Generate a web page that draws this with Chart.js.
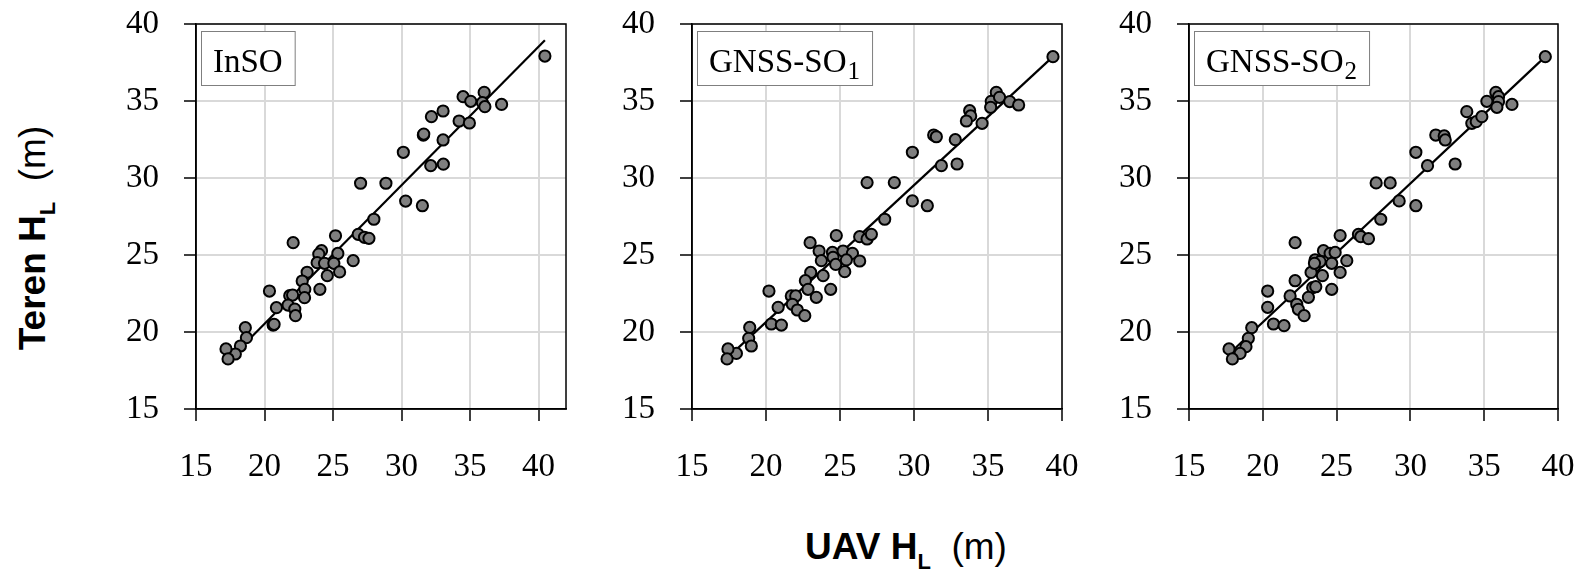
<!DOCTYPE html>
<html>
<head>
<meta charset="utf-8">
<script src="https://cdn.jsdelivr.net/npm/chart.js@4.4.1/dist/chart.umd.min.js"></script>
<style>
  html, body { margin: 0; padding: 0; background: #fff; width: 1581px; height: 570px; overflow: hidden; }
  .panel { position: absolute; top: 0; }
  .title { position: absolute; white-space: nowrap; font-family: 'Liberation Sans', Arial, sans-serif; font-size: 37px; color: #000; line-height: 1; }
  .title b { font-weight: bold; }
  .title .sub { font-size: 22px; position: relative; top: 10px; font-weight: bold; }
</style>
</head>
<body>
<canvas id="p1" class="panel"></canvas>
<canvas id="p2" class="panel"></canvas>
<canvas id="p3" class="panel"></canvas>
<div id="ytitle" class="title" style="left:32px; top:238px; transform: translate(-50%,-50%) rotate(-90deg);"><b>Teren H<span class="sub">L</span></b>&nbsp; (m)</div>
<div id="xtitle" class="title" style="left:906px; top:528px; transform: translateX(-50%);"><b>UAV H<span class="sub">L</span></b>&nbsp; (m)</div>
<script>
// tick labels shared by all three panels
const xTicks = [15, 20, 25, 30, 35, 40];
const yTicks = [15, 20, 25, 30, 35, 40];

// InSO
const insoX = [40.46, 36.03, 34.49, 35.05, 35.9, 36.08, 37.3, 34.2, 34.95, 32.18, 33.03, 31.59, 31.62, 33.03, 30.13, 32.13, 33.05, 27.01, 28.86, 30.3, 31.52, 27.98, 26.84, 27.3, 27.62, 25.18, 26.47, 22.09, 24.16, 23.96, 25.35, 23.84, 24.38, 25.06, 24.58, 25.48, 23.11, 22.75, 22.94, 24.04, 22.92, 21.84, 22.05, 21.72, 22.21, 22.26, 20.36, 20.87, 20.63, 20.7, 18.6, 18.68, 18.24, 17.87, 17.19, 17.34];
const insoY = [37.92, 35.56, 35.28, 34.98, 34.89, 34.63, 34.78, 33.7, 33.57, 33.98, 34.35, 32.79, 32.85, 32.47, 31.67, 30.8, 30.9, 29.66, 29.66, 28.5, 28.2, 27.32, 26.34, 26.15, 26.08, 26.25, 24.63, 25.8, 25.28, 25.06, 25.1, 24.5, 24.46, 24.46, 23.66, 23.9, 23.88, 23.31, 22.77, 22.77, 22.23, 22.36, 22.4, 21.75, 21.49, 21.06, 22.66, 21.58, 20.45, 20.5, 20.28, 19.63, 19.09, 18.57, 18.9, 18.25];
const insoFitX = [17.19, 40.46];
const insoFitY = [18.0, 38.95];

// GNSS-SO1
const so1X = [39.39, 35.56, 35.22, 35.78, 36.47, 37.07, 35.18, 33.76, 33.83, 33.54, 34.6, 31.33, 31.51, 32.79, 29.89, 31.85, 32.91, 26.83, 28.67, 29.89, 30.9, 28.02, 26.33, 26.83, 27.12, 24.75, 22.98, 23.59, 24.49, 25.21, 25.84, 23.74, 24.53, 24.71, 25.43, 26.33, 25.32, 23.86, 23.02, 22.66, 22.84, 24.37, 23.4, 21.71, 22.01, 21.78, 22.12, 22.62, 20.2, 20.82, 20.36, 21.04, 18.9, 18.83, 19.01, 18.0, 17.43, 17.37];
const so1Y = [37.88, 35.56, 34.98, 35.24, 34.96, 34.74, 34.59, 34.37, 34.03, 33.7, 33.55, 32.79, 32.68, 32.49, 31.67, 30.8, 30.91, 29.7, 29.7, 28.51, 28.2, 27.32, 26.19, 26.04, 26.34, 26.26, 25.8, 25.26, 25.17, 25.26, 25.11, 24.63, 24.85, 24.39, 24.68, 24.61, 23.92, 23.66, 23.87, 23.33, 22.77, 22.77, 22.25, 22.34, 22.34, 21.8, 21.43, 21.06, 22.66, 21.6, 20.52, 20.45, 20.3, 19.59, 19.09, 18.61, 18.9, 18.25];
const so1FitX = [17.37, 39.39];
const so1FitY = [18.3, 37.88];

// GNSS-SO2
const so2X = [39.14, 35.79, 35.97, 35.18, 35.97, 35.86, 36.88, 33.82, 34.16, 34.46, 34.84, 31.72, 32.29, 32.36, 30.37, 31.16, 33.03, 27.68, 28.63, 29.24, 30.37, 27.99, 26.48, 26.64, 27.16, 25.24, 22.19, 24.11, 23.54, 23.88, 24.56, 24.9, 24.67, 25.69, 25.24, 24.04, 23.27, 22.19, 23.38, 23.59, 24.67, 21.85, 23.09, 22.3, 22.41, 22.8, 20.33, 20.33, 20.72, 21.44, 19.25, 19.02, 18.86, 18.46, 17.71, 17.94, 23.5];
const so2Y = [37.88, 35.56, 35.28, 34.98, 34.96, 34.59, 34.78, 34.31, 33.55, 33.66, 33.98, 32.79, 32.73, 32.47, 31.67, 30.8, 30.91, 29.68, 29.68, 28.51, 28.2, 27.32, 26.34, 26.19, 26.06, 26.26, 25.8, 25.28, 24.68, 24.57, 25.11, 25.17, 24.46, 24.63, 23.87, 23.66, 23.87, 23.33, 22.88, 22.94, 22.77, 22.34, 22.25, 21.8, 21.47, 21.06, 22.66, 21.6, 20.52, 20.41, 20.28, 19.59, 19.05, 18.61, 18.9, 18.25, 24.46];
const so2FitX = [17.71, 39.14];
const so2FitY = [18.57, 37.88];

const SERIF = "'Liberation Serif', 'Times New Roman', serif";
const PLOT_TOP = 24, PLOT_BOTTOM = 409, CANVAS_H = 480, AXIS_W = 120, PAD_R = 40;

const zip = (xs, ys) => xs.map((x, i) => ({ x, y: ys[i] }));

// box with the panel name, plus the black frame round the plot area
const framePlugin = {
    id: 'frame',
    afterDraw(chart, args, opts) {
        const { ctx, chartArea: a } = chart;
        ctx.save();
        ctx.strokeStyle = '#000';
        ctx.lineWidth = 1.5;
        ctx.strokeRect(a.left, a.top, a.right - a.left, a.bottom - a.top);

        ctx.font = '33px ' + SERIF;
        const mainW = ctx.measureText(opts.main).width;
        ctx.font = '25px ' + SERIF;
        const subW = opts.sub ? ctx.measureText(opts.sub).width + 1 : 0;
        const bx = a.left + 5, by = 31, bw = mainW + subW + 24, bh = 54;
        ctx.fillStyle = '#fff';
        ctx.fillRect(bx, by, bw, bh);
        ctx.strokeStyle = '#7f7f7f';
        ctx.lineWidth = 1;
        ctx.strokeRect(bx + 0.5, by + 0.5, bw, bh);
        ctx.fillStyle = '#000';
        ctx.textBaseline = 'alphabetic';
        ctx.font = '33px ' + SERIF;
        ctx.fillText(opts.main, bx + 12, 72);
        if (opts.sub) {
            ctx.font = '25px ' + SERIF;
            ctx.fillText(opts.sub, bx + 13 + mainW, 79);
        }
        ctx.restore();
    }
};

function makePanel(id, left, right, xMax, xs, ys, fitX, fitY, main, sub) {
    const canvas = document.getElementById(id);
    canvas.width = right - left + AXIS_W + PAD_R;
    canvas.height = CANVAS_H;
    canvas.style.left = (left - AXIS_W) + 'px';

    const tickFont = { family: SERIF, size: 33 };
    new Chart(canvas.getContext('2d'), {
        type: 'scatter',
        data: {
            datasets: [
                {
                    data: zip(xs, ys),
                    backgroundColor: '#7f7f7f',
                    borderColor: '#000',
                    borderWidth: 2,
                    pointRadius: 5.6,
                },
                {
                    type: 'line',
                    data: zip(fitX, fitY),
                    borderColor: '#000',
                    borderWidth: 2.2,
                    pointRadius: 0,
                    fill: false,
                },
            ],
        },
        options: {
            responsive: false,
            animation: false,
            events: [],
            layout: { padding: { top: PLOT_TOP, right: PAD_R, left: 0, bottom: 0 } },
            plugins: {
                legend: { display: false },
                tooltip: { enabled: false },
                frame: { main, sub },
            },
            scales: {
                x: {
                    type: 'linear',
                    min: 15,
                    max: xMax,
                    afterBuildTicks: (s) => { s.ticks = xTicks.map((v) => ({ value: v })); },
                    afterFit: (s) => { s.height = CANVAS_H - PLOT_BOTTOM; s.paddingLeft = 0; s.paddingRight = 0; },
                    ticks: { font: tickFont, color: '#000', padding: 27, maxRotation: 0, autoSkip: false },
                    grid: { color: '#d9d9d9', lineWidth: 2, tickLength: 12, tickColor: '#000', tickWidth: 1.5 },
                    border: { color: '#000', width: 1.5 },
                },
                y: {
                    type: 'linear',
                    min: 15,
                    max: 40,
                    afterBuildTicks: (s) => { s.ticks = yTicks.map((v) => ({ value: v })); },
                    afterFit: (s) => { s.width = AXIS_W; s.paddingTop = 0; s.paddingBottom = 0; },
                    ticks: { font: tickFont, color: '#000', padding: 25, autoSkip: false },
                    grid: { color: '#d9d9d9', lineWidth: 2, tickLength: 12, tickColor: '#000', tickWidth: 1.5 },
                    border: { color: '#000', width: 1.5 },
                },
            },
        },
        plugins: [framePlugin],
    });
}

makePanel('p1', 196, 566, 42, insoX, insoY, insoFitX, insoFitY, 'InSO', '');
makePanel('p2', 692, 1062, 40, so1X, so1Y, so1FitX, so1FitY, 'GNSS-SO', '1');
makePanel('p3', 1189, 1558, 40, so2X, so2Y, so2FitX, so2FitY, 'GNSS-SO', '2');
</script>
</body>
</html>
